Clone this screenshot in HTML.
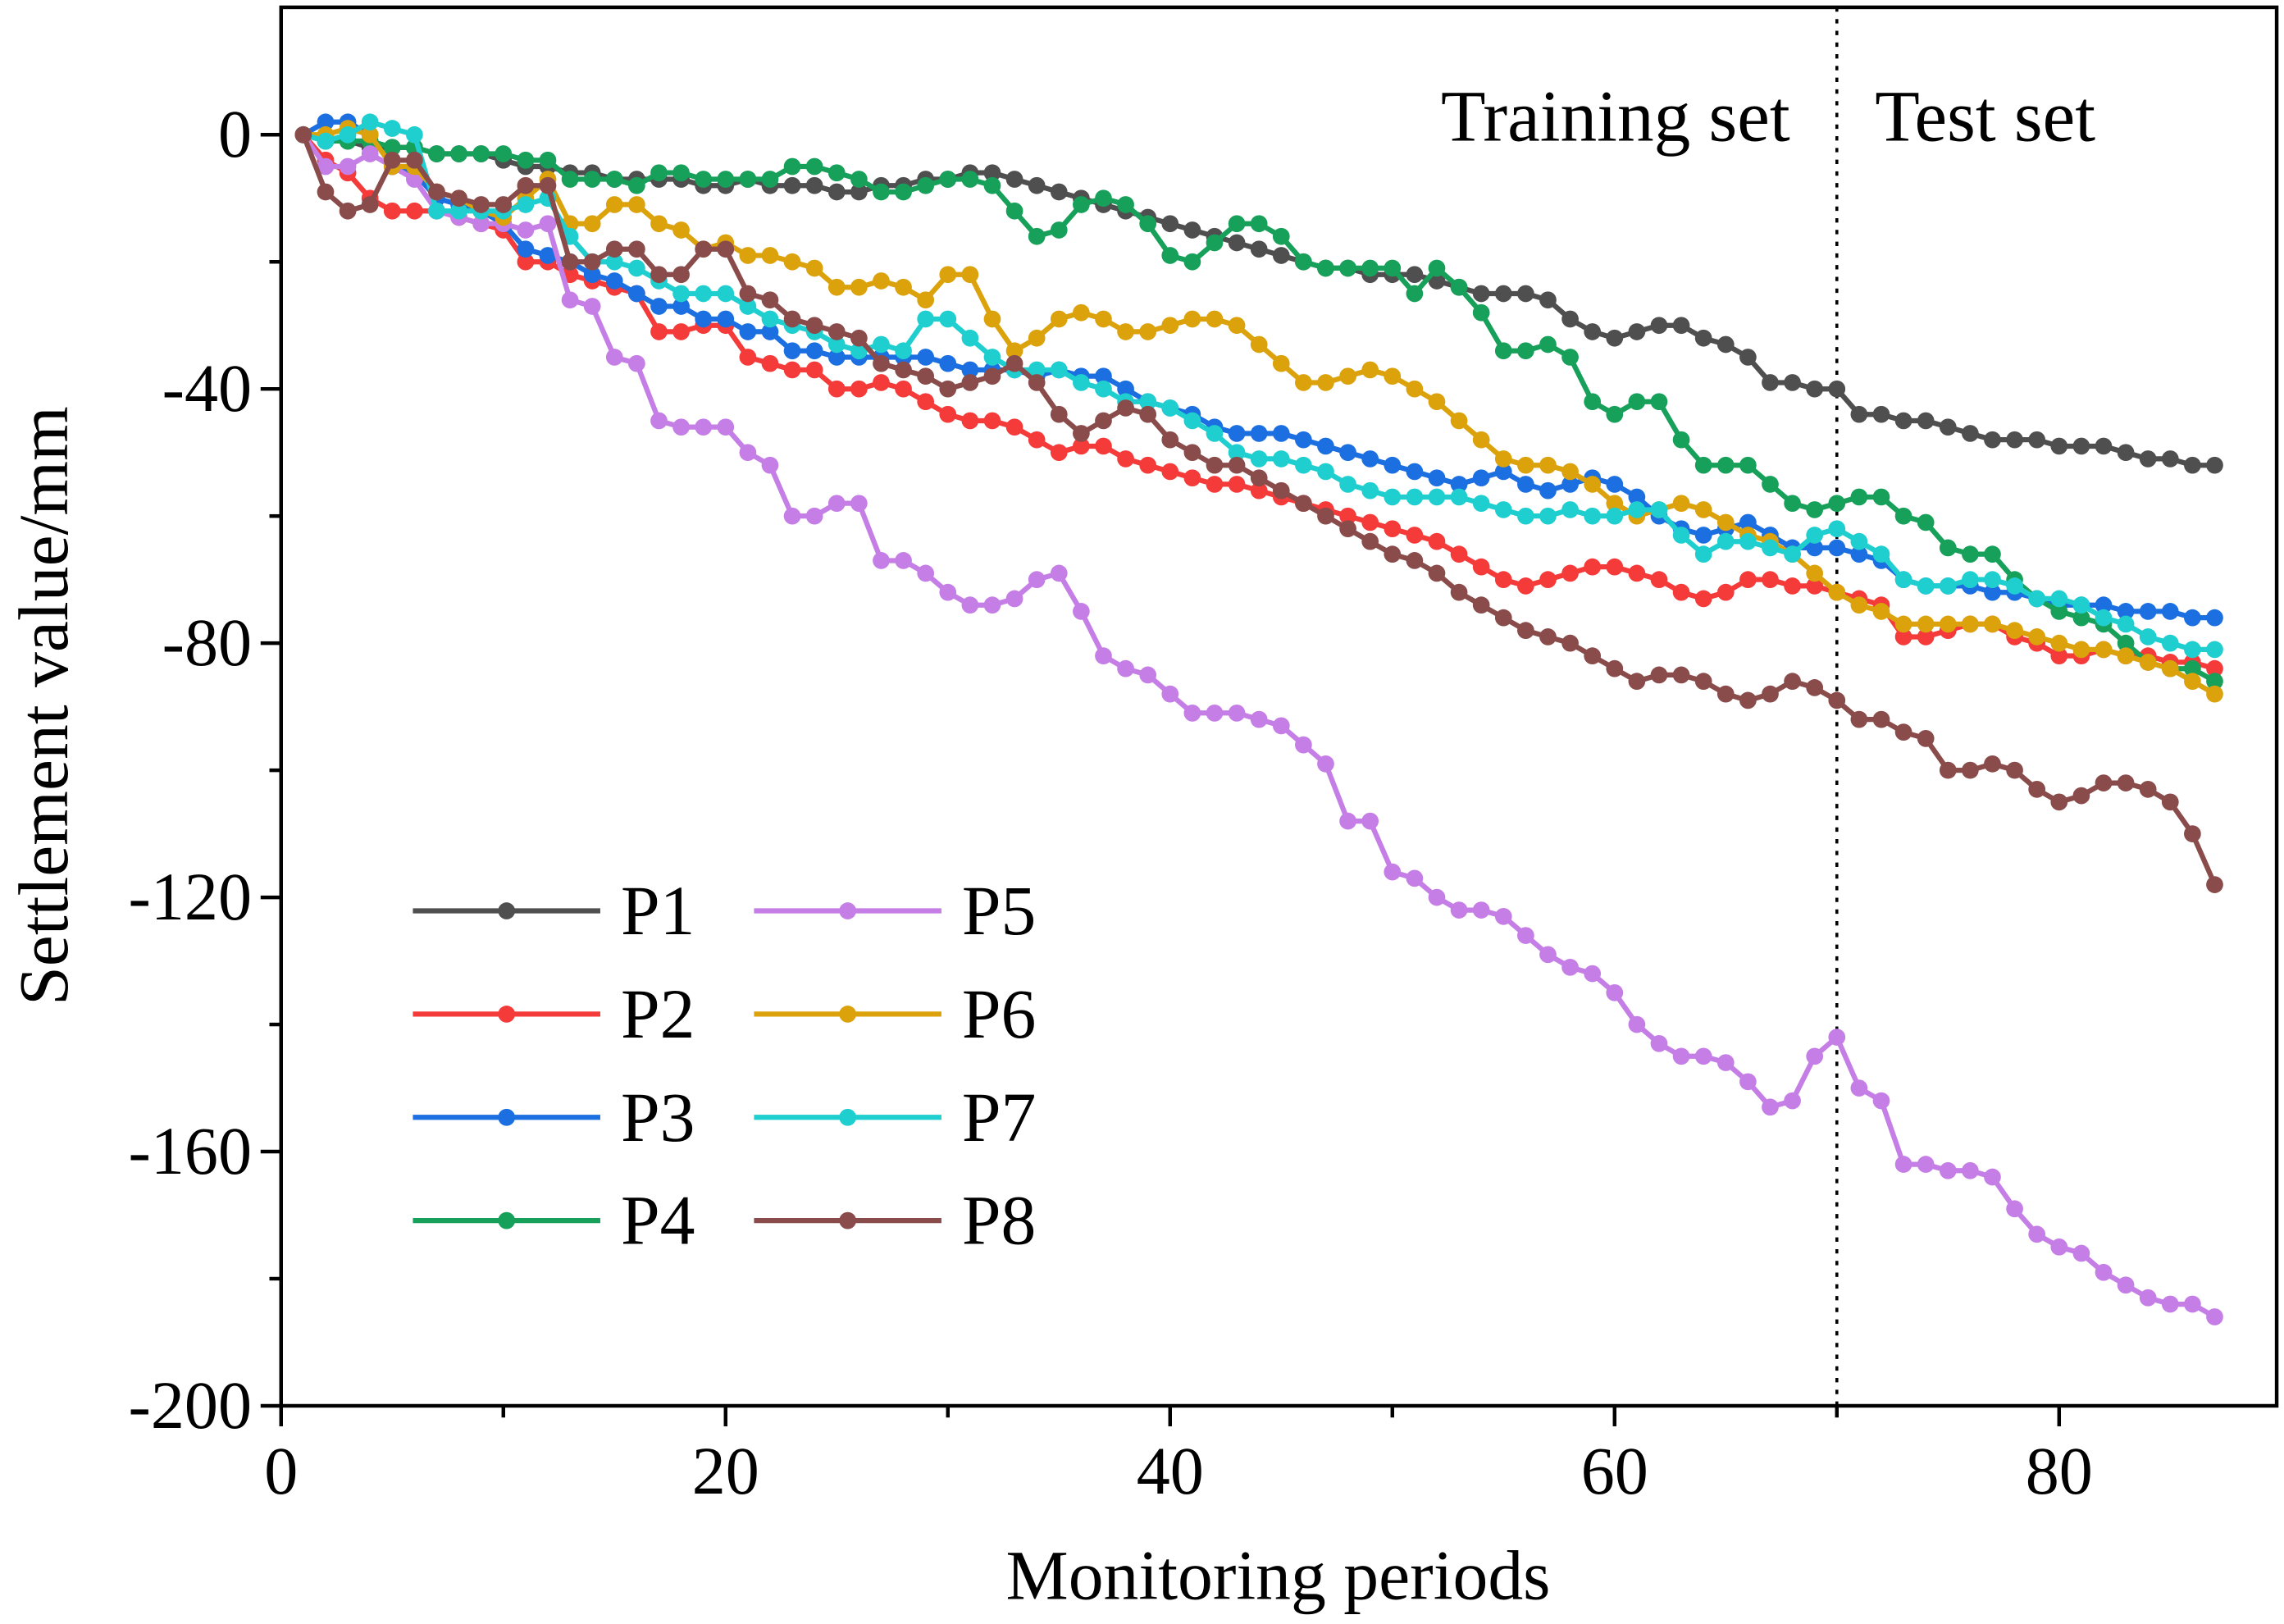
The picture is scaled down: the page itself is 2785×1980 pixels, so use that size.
<!DOCTYPE html>
<html><head><meta charset="utf-8"><style>
html,body{margin:0;padding:0;background:#fff}
svg{display:block}
text{font-family:"Liberation Serif","DejaVu Serif",serif;fill:#000}
</style></head><body>
<svg id="chart" width="2785" height="1980" viewBox="0 0 1560 1109" preserveAspectRatio="none" xmlns="http://www.w3.org/2000/svg">
<g id="axes"></g>
<g id="series"></g>
<g id="legend"></g>
</svg>
<script>
const xTicks=[0,20,40,60,80];
const yTicks=[0,-40,-80,-120,-160,-200];
const seriesNames=["P1","P2","P3","P4","P5","P6","P7","P8"];
const seriesColors=["#4f4f4f","#f53a3a","#1b6fe0","#17a05a","#c57ee6","#dba20c","#1fcfd0","#8a4b4b"];
const P1=[0,-1,-1,-2,-2,-2,-3,-3,-3,-4,-5,-5,-6,-6,-7,-7,-7,-7,-8,-8,-7,-8,-8,-8,-9,-9,-8,-8,-7,-7,-6,-6,-7,-8,-9,-10,-11,-12,-13,-14,-15,-16,-17,-18,-19,-20,-21,-21,-22,-22,-22,-23,-24,-25,-25,-25,-26,-29,-31,-32,-31,-30,-30,-32,-33,-35,-39,-39,-40,-40,-44,-44,-45,-45,-46,-47,-48,-48,-48,-49,-49,-49,-50,-51,-51,-52,-52];
const P2=[0,-4,-6,-10,-12,-12,-12,-13,-14,-15,-20,-20,-22,-23,-24,-25,-31,-31,-30,-30,-35,-36,-37,-37,-40,-40,-39,-40,-42,-44,-45,-45,-46,-48,-50,-49,-49,-51,-52,-53,-54,-55,-55,-56,-57,-58,-59,-60,-61,-62,-63,-64,-66,-68,-70,-71,-70,-69,-68,-68,-69,-70,-72,-73,-72,-70,-70,-71,-71,-72,-73,-74,-79,-79,-78,-77,-77,-79,-80,-82,-82,-81,-82,-82,-83,-83,-84];
const P3=[0,2,2,0,-5,-6,-10,-11,-12,-14,-18,-19,-20,-22,-23,-25,-27,-27,-29,-29,-31,-31,-34,-34,-35,-35,-35,-35,-35,-36,-37,-37,-37,-38,-37,-38,-38,-40,-42,-43,-44,-46,-47,-47,-47,-48,-49,-50,-51,-52,-53,-54,-55,-54,-53,-55,-56,-55,-54,-55,-57,-60,-62,-63,-62,-61,-63,-65,-65,-65,-66,-67,-70,-71,-71,-71,-72,-72,-73,-74,-74,-74,-75,-75,-75,-76,-76];
const P4=[0,-1,-1,-1,-2,-2,-3,-3,-3,-3,-4,-4,-7,-7,-7,-8,-6,-6,-7,-7,-7,-7,-5,-5,-6,-7,-9,-9,-8,-7,-7,-8,-12,-16,-15,-11,-10,-11,-14,-19,-20,-17,-14,-14,-16,-20,-21,-21,-21,-21,-25,-21,-24,-28,-34,-34,-33,-35,-42,-44,-42,-42,-48,-52,-52,-52,-55,-58,-59,-58,-57,-57,-60,-61,-65,-66,-66,-70,-73,-75,-76,-77,-80,-83,-84,-84,-86];
const P5=[0,-5,-5,-3,-5,-7,-12,-13,-14,-14,-15,-14,-26,-27,-35,-36,-45,-46,-46,-46,-50,-52,-60,-60,-58,-58,-67,-67,-69,-72,-74,-74,-73,-70,-69,-75,-82,-84,-85,-88,-91,-91,-91,-92,-93,-96,-99,-108,-108,-116,-117,-120,-122,-122,-123,-126,-129,-131,-132,-135,-140,-143,-145,-145,-146,-149,-153,-152,-145,-142,-150,-152,-162,-162,-163,-163,-164,-169,-173,-175,-176,-179,-181,-183,-184,-184,-186];
const P6=[0,0,1,0,-5,-5,-9,-10,-12,-13,-10,-7,-14,-14,-11,-11,-14,-15,-18,-17,-19,-19,-20,-21,-24,-24,-23,-24,-26,-22,-22,-29,-34,-32,-29,-28,-29,-31,-31,-30,-29,-29,-30,-33,-36,-39,-39,-38,-37,-38,-40,-42,-45,-48,-51,-52,-52,-53,-55,-58,-60,-59,-58,-59,-61,-63,-64,-66,-69,-72,-74,-75,-77,-77,-77,-77,-77,-78,-79,-80,-81,-81,-82,-83,-84,-86,-88];
const P7=[0,-1,0,2,1,0,-12,-12,-12,-12,-11,-10,-16,-20,-20,-21,-23,-25,-25,-25,-27,-29,-30,-31,-33,-34,-33,-34,-29,-29,-32,-35,-37,-37,-37,-39,-40,-42,-42,-43,-45,-47,-50,-51,-51,-52,-53,-55,-56,-57,-57,-57,-57,-58,-59,-60,-60,-59,-60,-60,-59,-59,-63,-66,-64,-64,-65,-66,-63,-62,-64,-66,-70,-71,-71,-70,-70,-71,-73,-73,-74,-76,-77,-79,-80,-81,-81];
const P8=[0,-9,-12,-11,-4,-4,-9,-10,-11,-11,-8,-8,-20,-20,-18,-18,-22,-22,-18,-18,-25,-26,-29,-30,-31,-32,-36,-37,-38,-40,-39,-38,-36,-39,-44,-47,-45,-43,-44,-48,-50,-52,-52,-54,-56,-58,-60,-62,-64,-66,-67,-69,-72,-74,-76,-78,-79,-80,-82,-84,-86,-85,-85,-86,-88,-89,-88,-86,-87,-89,-92,-92,-94,-95,-100,-100,-99,-100,-103,-105,-104,-102,-102,-103,-105,-110,-118];
const splitPeriod=70;

const NS="http://www.w3.org/2000/svg";
const L=192,R=1555,T=5,B=960;
const xs=v=>L+v*15.18;
const ys=v=>92+(0-v)*(960-92)/200;
function mk(tag,attrs,parent){const e=document.createElementNS(NS,tag);for(const k in attrs)e.setAttribute(k,attrs[k]);parent.appendChild(e);return e;}
const axes=document.getElementById('axes');
let f=mk('rect',{x:L,y:T,width:R-L,height:B-T,fill:'none',stroke:'#000','stroke-width':2.5},axes);


for(let v=0;v<=85;v+=10){const major=v%20===0;let t=mk('line',{x1:xs(v),x2:xs(v),y1:B,y2:B+(major?14:8),stroke:'#000','stroke-width':2.5},axes);

}
xTicks.forEach(v=>{let t=mk('text',{x:xs(v),y:B+60,'font-size':46,'text-anchor':'middle'},axes);t.textContent=v;

});
for(let v=0;v>=-200;v-=20){const major=v%40===0;let t=mk('line',{x1:L,x2:L-(major?14:8),y1:ys(v),y2:ys(v),stroke:'#000','stroke-width':2.5},axes);

}
yTicks.forEach(v=>{let t=mk('text',{x:L-20,y:ys(v)+15,'font-size':46,'text-anchor':'end'},axes);t.textContent=v===0?'0':'-'+Math.abs(v);

});
let xt=mk('text',{x:873,y:1092,'font-size':48,'text-anchor':'middle'},axes);xt.textContent='Monitoring periods';


let yt=mk('text',{x:0,y:0,'font-size':48,'text-anchor':'middle',transform:'translate(46,482) rotate(-90)'},axes);yt.textContent='Settlement value/mm';


let dl=mk('line',{x1:xs(splitPeriod),x2:xs(splitPeriod),y1:T,y2:B,stroke:'#000','stroke-width':2,'stroke-dasharray':'3,5'},axes);


let tr=mk('text',{x:xs(splitPeriod)-32,y:96,'font-size':50,'text-anchor':'end'},axes);tr.textContent='Training set';


let te=mk('text',{x:xs(splitPeriod)+26,y:96,'font-size':50},axes);te.textContent='Test set';



const data=[P1,P2,P3,P4,P5,P6,P7,P8];
const sg=document.getElementById('series');
data.forEach((arr,i)=>{
  const g=mk('g',{},sg);
  
  
  const pts=arr.map((v,j)=>xs(j+1).toFixed(1)+','+ys(v).toFixed(1)).join(' ');
  const pl=mk('polyline',{points:pts,fill:'none',stroke:seriesColors[i],'stroke-width':3.5,'stroke-linejoin':'round'},g);
  
  
  arr.forEach((v,j)=>{const c=mk('circle',{cx:xs(j+1),cy:ys(v),r:5.8,fill:seriesColors[i]},g);
    
    });
});
const lg=document.getElementById('legend');
seriesNames.forEach((n,i)=>{
  const col=i<4?0:1,row=i%4;
  const x0=col?515:282,y0=622+row*70.5;
  const g=mk('g',{},lg);
  
  
  mk('line',{x1:x0,x2:x0+128,y1:y0,y2:y0,stroke:seriesColors[i],'stroke-width':3.5},g);
  mk('circle',{cx:x0+64,cy:y0,r:5.8,fill:seriesColors[i]},g);
  const t=mk('text',{x:x0+142,y:y0+16,'font-size':48},g);t.textContent=n;
});
</script>
</body></html>
